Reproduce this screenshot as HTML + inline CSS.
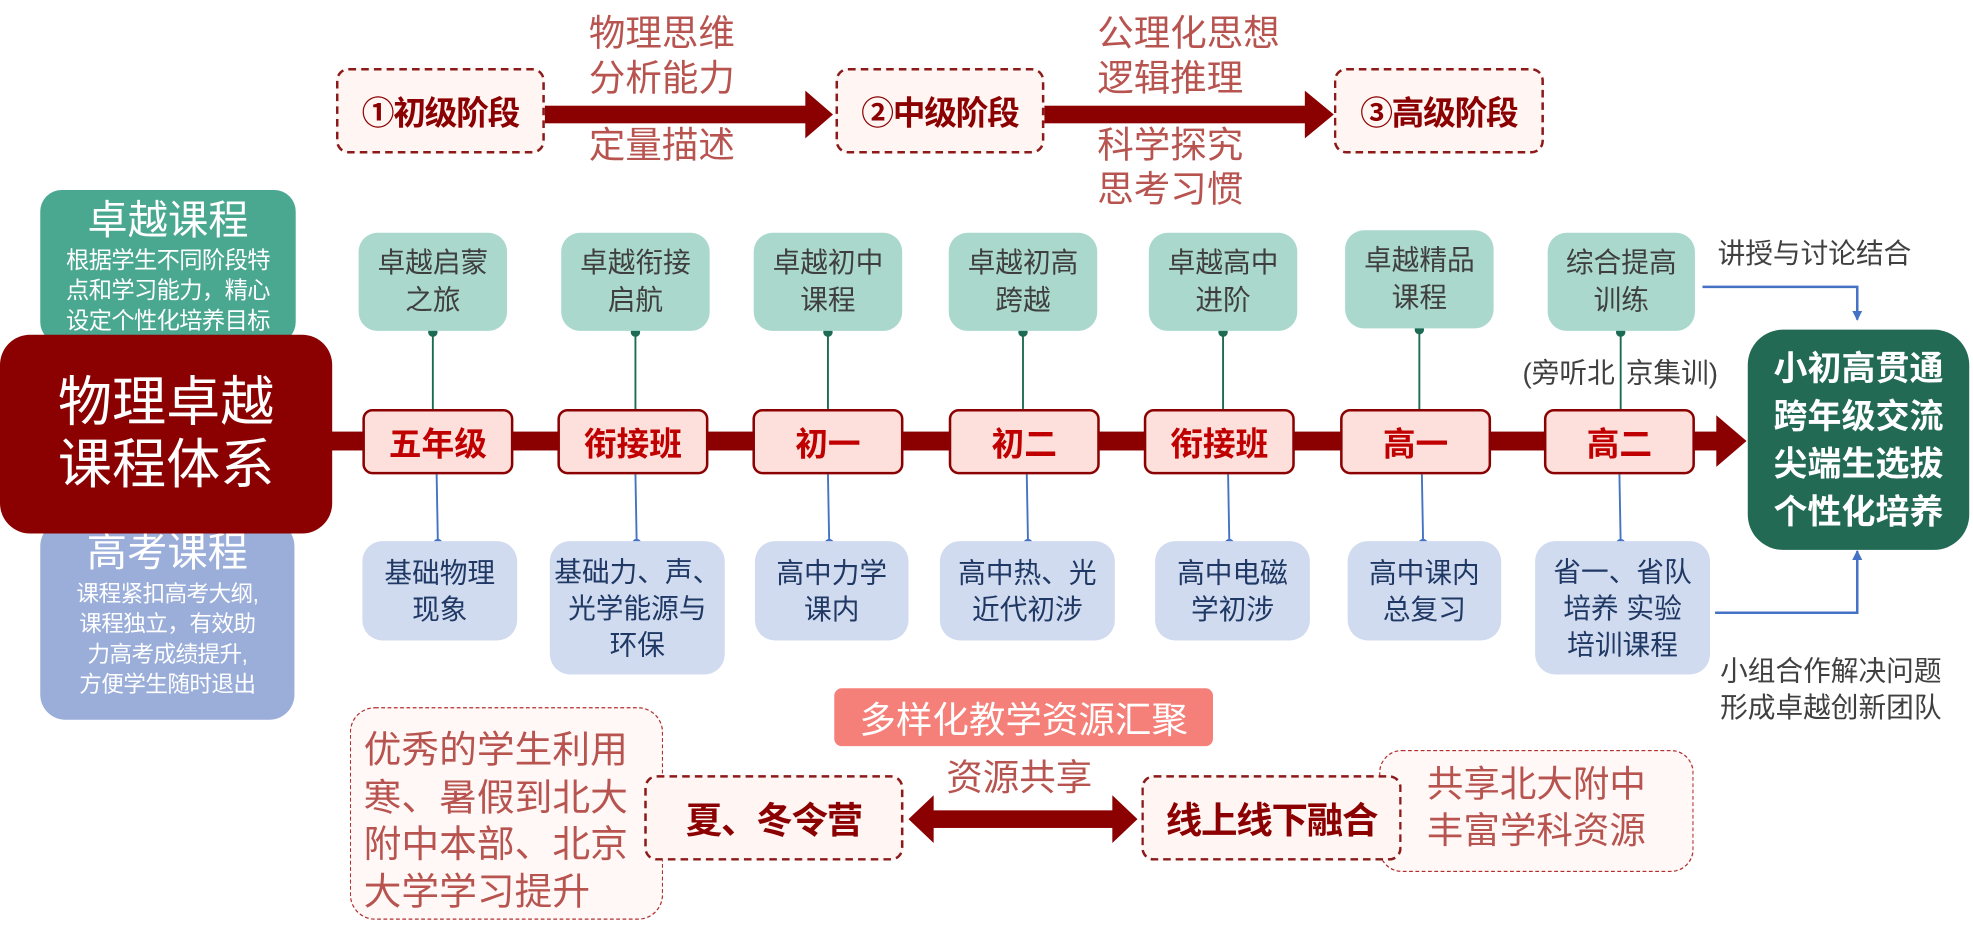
<!DOCTYPE html>
<html><head><meta charset="utf-8">
<style>
html,body{margin:0;padding:0;background:#fff;width:1973px;height:933px;overflow:hidden}
#w{position:absolute;left:0;top:0;width:1568px;height:742px;transform:scale(1.25829);transform-origin:0 0;font-family:"Liberation Sans","Noto Sans CJK SC",sans-serif}
.b{position:absolute;display:flex;align-items:center;justify-content:center;text-align:center;box-sizing:border-box}
.t{position:absolute;white-space:nowrap}
.stage{border:2px dashed #8b1a1a;background:#fff5f3;border-radius:10px;font-weight:bold;font-size:26px;color:#8b0000;letter-spacing:-1px}
.g{background:#aad8cd;border-radius:15px;color:#3f3f3f;font-size:22px;line-height:30px}
.gr{background:#fde0dc;border:2px solid #8b0000;border-radius:8px;color:#c00000;font-weight:bold;font-size:26px}
.bl{background:#d1dbf0;border-radius:16px;color:#1f3864;font-size:22px;line-height:29px}
.rt{color:#b85450;font-size:29px;line-height:37px}
.dk{color:#404040;font-size:22px}
</style></head><body><div id="w">
<svg width="1568" height="742" style="position:absolute;left:0;top:0">
<defs>
<marker id="ab" markerWidth="8" markerHeight="8" refX="7" refY="4" orient="auto" markerUnits="userSpaceOnUse"><path d="M0,0 L8,4 L0,8Z" fill="#4472c4"/></marker>
</defs>
<rect x="433" y="84" width="210" height="14" fill="#8b0000"/>
<path d="M640,72 L662,91 L640,110Z" fill="#8b0000"/>
<rect x="830" y="84" width="210" height="14" fill="#8b0000"/>
<path d="M1037,72 L1060,91 L1037,110Z" fill="#8b0000"/>
<rect x="262" y="343" width="1105" height="15" fill="#8b0000"/>
<path d="M1364,330 L1388,350.5 L1364,371Z" fill="#8b0000"/>
<g stroke="#1e6b55" stroke-width="1.5" fill="#1e6b55">
<line x1="344" y1="264" x2="344" y2="325"/><circle cx="344" cy="264" r="3"/>
<line x1="505" y1="264" x2="505" y2="325"/><circle cx="505" cy="264" r="3"/>
<line x1="658" y1="264" x2="658" y2="325"/><circle cx="658" cy="264" r="3"/>
<line x1="813" y1="264" x2="813" y2="325"/><circle cx="813" cy="264" r="3"/>
<line x1="972" y1="264" x2="972" y2="325"/><circle cx="972" cy="264" r="3"/>
<line x1="1128" y1="262" x2="1128" y2="325"/><circle cx="1128" cy="262" r="3"/>
<line x1="1288" y1="264" x2="1288" y2="325"/><circle cx="1288" cy="264" r="3"/>
</g>
<g stroke="#4472c4" stroke-width="1.5" fill="#4472c4">
<line x1="347" y1="377" x2="348" y2="432"/><circle cx="348" cy="432" r="3"/>
<line x1="505" y1="377" x2="506" y2="432"/><circle cx="506" cy="432" r="3"/>
<line x1="658" y1="377" x2="659" y2="432"/><circle cx="659" cy="432" r="3"/>
<line x1="816" y1="377" x2="817" y2="432"/><circle cx="817" cy="432" r="3"/>
<line x1="976" y1="377" x2="977" y2="432"/><circle cx="977" cy="432" r="3"/>
<line x1="1130" y1="377" x2="1131" y2="432"/><circle cx="1131" cy="432" r="3"/>
<line x1="1287" y1="377" x2="1288" y2="432"/><circle cx="1288" cy="432" r="3"/>
</g>
<polyline points="1353,228 1476,228 1476,254" fill="none" stroke="#4472c4" stroke-width="2" marker-end="url(#ab)"/>
<polyline points="1363,487 1476,487 1476,438" fill="none" stroke="#4472c4" stroke-width="2" marker-end="url(#ab)"/>
<rect x="740" y="644" width="146" height="14" fill="#8b0000"/>
<path d="M742,632 L722,651 L742,670Z M884,632 L904,651 L884,670Z" fill="#8b0000"/>
</svg>

<div class="b stage" style="left:267px;top:54px;width:166px;height:68px">①初级阶段</div>
<div class="b stage" style="left:664px;top:54px;width:166px;height:68px">②中级阶段</div>
<div class="b stage" style="left:1060px;top:54px;width:167px;height:68px">③高级阶段</div>
<div class="t rt" style="left:468px;top:9px">物理思维</div>
<div class="t rt" style="left:468px;top:45px">分析能力</div>
<div class="t rt" style="left:468px;top:98px">定量描述</div>
<div class="t rt" style="left:872px;top:9px">公理化思想</div>
<div class="t rt" style="left:872px;top:45px">逻辑推理</div>
<div class="t rt" style="left:872px;top:98px">科学探究</div>
<div class="t rt" style="left:872px;top:133px">思考习惯</div>

<div class="b" style="left:32px;top:151px;width:203px;height:122px;background:#4aa891;border-radius:17px;color:#fff;flex-direction:column;justify-content:flex-start;padding-top:4px">
<div style="font-size:32px;line-height:40px">卓越课程</div>
<div style="font-size:18.5px;line-height:24px;letter-spacing:-0.5px">根据学生不同阶段特<br>点和学习能力，精心<br>设定个性化培养目标</div></div>
<div class="b" style="left:32px;top:414px;width:202px;height:158px;background:#9aaed9;border-radius:20px;color:#fff;flex-direction:column;justify-content:flex-start;padding-top:4px">
<div style="font-size:32px;line-height:42px">高考课程</div>
<div style="font-size:18px;line-height:24px;letter-spacing:-0.5px">课程紧扣高考大纲,<br>课程独立，有效助<br>力高考成绩提升,<br>方便学生随时退出</div></div>
<div class="b" style="left:0px;top:266px;width:264px;height:158px;background:#8b0000;border-radius:24px;color:#fff;font-size:43px;line-height:50px">物理卓越<br>课程体系</div>

<div class="b g" style="left:285px;top:185px;width:118px;height:78px">卓越启蒙<br>之旅</div>
<div class="b g" style="left:446px;top:185px;width:118px;height:78px">卓越衔接<br>启航</div>
<div class="b g" style="left:599px;top:185px;width:118px;height:78px">卓越初中<br>课程</div>
<div class="b g" style="left:754px;top:185px;width:118px;height:78px">卓越初高<br>跨越</div>
<div class="b g" style="left:913px;top:185px;width:118px;height:78px">卓越高中<br>进阶</div>
<div class="b g" style="left:1069px;top:183px;width:118px;height:78px">卓越精品<br>课程</div>
<div class="b g" style="left:1230px;top:185px;width:117px;height:78px">综合提高<br>训练</div>

<div class="b gr" style="left:288px;top:325px;width:120px;height:52px">五年级</div>
<div class="b gr" style="left:443px;top:325px;width:120px;height:52px">衔接班</div>
<div class="b gr" style="left:598px;top:325px;width:120px;height:52px">初一</div>
<div class="b gr" style="left:754px;top:325px;width:120px;height:52px">初二</div>
<div class="b gr" style="left:909px;top:325px;width:120px;height:52px">衔接班</div>
<div class="b gr" style="left:1065px;top:325px;width:120px;height:52px">高一</div>
<div class="b gr" style="left:1227px;top:325px;width:120px;height:52px">高二</div>

<div class="b bl" style="left:288px;top:430px;width:123px;height:79px">基础物理<br>现象</div>
<div class="b bl" style="left:437px;top:430px;width:139px;height:106px">基础力、声、<br>光学能源与<br>环保</div>
<div class="b bl" style="left:600px;top:430px;width:122px;height:79px">高中力学<br>课内</div>
<div class="b bl" style="left:747px;top:430px;width:139px;height:79px">高中热、光<br>近代初涉</div>
<div class="b bl" style="left:918px;top:430px;width:123px;height:79px">高中电磁<br>学初涉</div>
<div class="b bl" style="left:1071px;top:430px;width:122px;height:79px">高中课内<br>总复习</div>
<div class="b bl" style="left:1220px;top:430px;width:139px;height:106px">省一、省队<br>培养 实验<br>培训课程</div>

<div class="t dk" style="left:1210px;top:279px">(旁听北</div>
<div class="t dk" style="left:1292px;top:279px">京集训)</div>
<div class="b" style="left:1389px;top:262px;width:176px;height:175px;background:#226a53;border-radius:28px;color:#fff;font-weight:bold;font-size:27px;line-height:38px">小初高贯通<br>跨年级交流<br>尖端生选拔<br>个性化培养</div>
<div class="t dk" style="left:1365px;top:184px">讲授与讨论结合</div>
<div class="t dk" style="left:1367px;top:519px;line-height:29px">小组合作解决问题<br>形成卓越创新团队</div>

<div class="b" style="left:663px;top:547px;width:301px;height:46px;background:#f5807a;border-radius:6px;color:#fff;font-size:29px">多样化教学资源汇聚</div>
<div class="b" style="left:278px;top:562px;width:249px;height:169px;border:1px dashed #b03030;background:#fff8f6;border-radius:20px"></div>
<div class="t rt" style="left:289px;top:578px;font-size:30px;line-height:37.5px">优秀的学生利用<br>寒、暑假到北大<br>附中本部、北京<br>大学学习提升</div>
<div class="b" style="left:1096px;top:596px;width:250px;height:97px;border:1px dashed #b03030;background:#fff8f6;border-radius:18px"></div>
<div class="t rt" style="left:1134px;top:606px;font-size:29px;line-height:37px">共享北大附中<br>丰富学科资源</div>
<div class="b stage" style="left:512px;top:616px;width:206px;height:68px;font-size:29px">夏、冬令营</div>
<div class="b stage" style="left:907px;top:616px;width:207px;height:68px;font-size:29px">线上线下融合</div>
<div class="t rt" style="left:752px;top:601px;font-size:29px">资源共享</div>
</div></body></html>
